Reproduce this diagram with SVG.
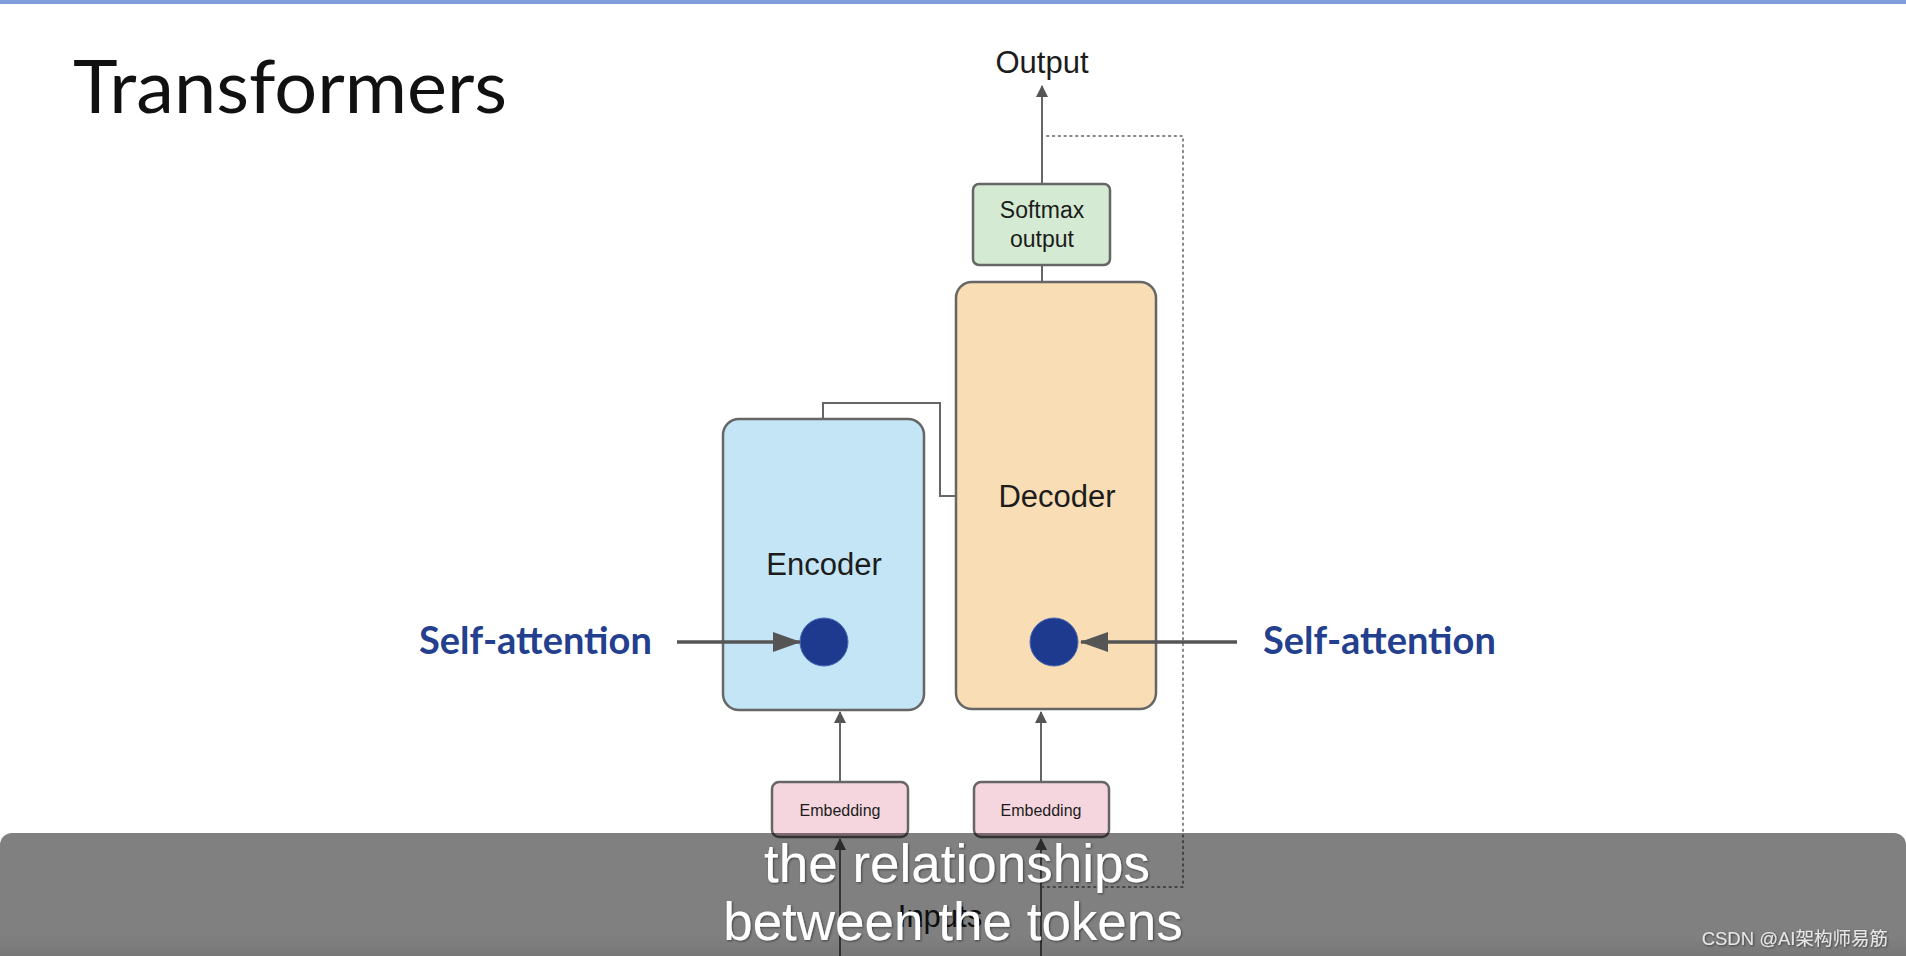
<svg xmlns="http://www.w3.org/2000/svg" width="1906" height="956" viewBox="0 0 1906 956">
<style>
.box{stroke:#666;stroke-width:2.5}
.lbl{font-family:"Liberation Sans",Arial,sans-serif;fill:#1c1c1c;text-anchor:middle}
.sa{font-family:Lato,"Open Sans",sans-serif;font-weight:bold;font-size:38px;fill:#233f8e}
.wire{fill:none;stroke:#666;stroke-width:2}
.thick{fill:none;stroke:#555;stroke-width:3.5}
.dot{fill:#1d3a8f;stroke:#4a67b5;stroke-width:1}
.cap{font-family:"Liberation Sans",Arial,sans-serif;font-size:53px;fill:#fff;text-anchor:middle}
</style>
<defs>
<marker id="ah" markerUnits="userSpaceOnUse" markerWidth="12" markerHeight="14" refX="11" refY="6" orient="auto">
<path d="M0,0 L12,6 L0,12 Z" fill="#555"/>
</marker>
<marker id="ahBig" markerUnits="userSpaceOnUse" markerWidth="28" markerHeight="22" refX="27" refY="10" orient="auto">
<path d="M0,0 L28,10 L0,20 Z" fill="#555"/>
</marker>
<linearGradient id="ov" x1="0" y1="0" x2="0" y2="1">
<stop offset="0" stop-color="#000" stop-opacity="0.5"/>
<stop offset="0.75" stop-color="#000" stop-opacity="0.5"/>
<stop offset="1" stop-color="#000" stop-opacity="0.57"/>
</linearGradient>
<filter id="sh" x="-5%" y="-20%" width="110%" height="140%">
<feDropShadow dx="1" dy="1" stdDeviation="0.8" flood-color="#000" flood-opacity="0.5"/>
</filter>
</defs>
<rect x="0" y="0" width="1906" height="956" fill="#fff"/>
<rect x="0" y="0" width="1906" height="4" fill="#7f9ed9"/>
<text x="73" y="113" font-family="Lato,'Open Sans',sans-serif" font-size="73" fill="#111" textLength="434" lengthAdjust="spacingAndGlyphs">Transformers</text>

<g id="connectors">
<line class="wire" x1="1042" y1="184" x2="1042" y2="86" marker-end="url(#ah)"/>
<line class="wire" x1="1042" y1="265" x2="1042" y2="282"/>
<path d="M1047,136 H1183 V887 H1043" fill="none" stroke="#888" stroke-width="2" stroke-dasharray="1.5 4.3" stroke-linecap="round"/>
<path class="wire" d="M823,419 V403 H940 V496 H956"/>
<line class="wire" x1="840" y1="782" x2="840" y2="712" marker-end="url(#ah)"/>
<line class="wire" x1="1041" y1="782" x2="1041" y2="712" marker-end="url(#ah)"/>
<line class="wire" x1="840" y1="956" x2="840" y2="839" marker-end="url(#ah)"/>
<line class="wire" x1="1041" y1="956" x2="1041" y2="839" marker-end="url(#ah)"/>
</g>

<g id="softmax">
<rect class="box" x="973" y="184" width="137" height="81" rx="6" fill="#d4ead2"/>
<text class="lbl" x="1042" y="218" font-size="23">Softmax</text>
<text class="lbl" x="1042" y="247" font-size="23">output</text>
</g>

<g id="output">
<text class="lbl" x="1042" y="73" font-size="31">Output</text>
</g>

<g id="encoder">
<rect class="box" x="723" y="419" width="201" height="291" rx="16" fill="#c3e5f5"/>
<text class="lbl" x="824" y="575" font-size="31">Encoder</text>
<circle class="dot" cx="824" cy="642" r="24"/>
</g>

<g id="decoder">
<rect class="box" x="956" y="282" width="200" height="427" rx="16" fill="#f8ddb5"/>
<text class="lbl" x="1057" y="507" font-size="31">Decoder</text>
<circle class="dot" cx="1054" cy="642" r="24"/>
</g>

<g id="self-attention-left">
<text class="sa" x="419" y="654">Self-attention</text>
<line class="thick" x1="677" y1="642" x2="800" y2="642" marker-end="url(#ahBig)"/>
</g>

<g id="self-attention-right">
<text class="sa" x="1263" y="654">Self-attention</text>
<line class="thick" x1="1237" y1="642" x2="1081" y2="642" marker-end="url(#ahBig)"/>
</g>

<g id="embedding-enc">
<rect class="box" x="772" y="782" width="136" height="55" rx="7" fill="#f5d6de"/>
<text class="lbl" x="840" y="816" font-size="16">Embedding</text>
</g>

<g id="embedding-dec">
<rect class="box" x="974" y="782" width="135" height="55" rx="7" fill="#f5d6de"/>
<text class="lbl" x="1041" y="816" font-size="16">Embedding</text>
</g>

<g id="inputs">
<text class="lbl" x="940" y="927" font-size="31">Inputs</text>
</g>

<g id="caption">
<rect x="0" y="833" width="1906" height="140" rx="12" fill="url(#ov)"/>
<g filter="url(#sh)">
<text class="cap" x="957" y="882">the relationships</text>
<text class="cap" x="953" y="940">between the tokens</text>
</g>
<text x="1888" y="945" text-anchor="end" font-family="'Liberation Sans','Noto Sans CJK SC',sans-serif" font-size="18.5" fill="#e6e6e6" filter="url(#sh)">CSDN @AI架构师易筋</text>
</g>
</svg>
